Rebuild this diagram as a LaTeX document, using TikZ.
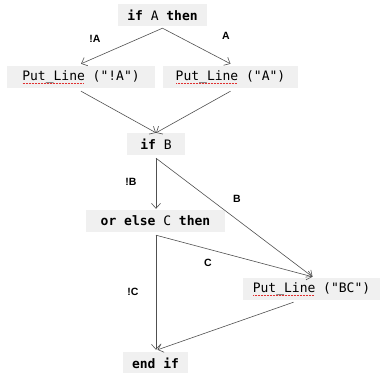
\documentclass[tikz,border=0pt]{standalone}
\usepackage{fontspec}
\setmainfont{Liberation Sans}
\setsansfont{Liberation Sans}
\setmonofont{DejaVu Sans Mono}
\usetikzlibrary{arrows.meta,calc}

% identifier with a dotted red underline beneath it
\newcommand\squig[1]{\setbox0=\hbox{#1}\rlap{\copy0}\raisebox{-2.8pt}[0pt][0pt]{\color{squigred}\leaders\hbox to 1.5pt{\hss\rule{0.8pt}{0.6pt}\hss}\hskip\wd0}}

\definecolor{boxgray}{HTML}{F0F0F0}
\definecolor{linegray}{HTML}{505050}
\definecolor{squigred}{HTML}{E03030}

\tikzset{
  codebox/.style={fill=boxgray, text=black, inner sep=0pt, minimum height=22pt,
                  font=\ttfamily\fontsize{13}{15}\selectfont},
  lbl/.style={font=\sffamily\bfseries\fontsize{10.5}{12}\selectfont, text=black},
  arr/.style={draw=linegray, line width=0.6pt, -{Straight Barb[length=5pt,width=9pt]}}
}

\begin{document}
\begin{tikzpicture}[x=1pt, y=-1pt]
  \useasboundingbox (0,0) rectangle (382,372);

  % statements
  \node[codebox, minimum width=89pt]  (ifA)    at (162.5,15)  {\textbf{if} A \textbf{then}};
  \node[codebox, minimum width=148pt] (putNA)  at (81,77)     {\squig{Put\_Line} ("!A")};
  \node[codebox, minimum width=135pt] (putA)   at (230.5,77)  {\squig{Put\_Line} ("A")};
  \node[codebox, minimum width=58pt]  (ifB)    at (156,144)   {\textbf{if} B};
  \node[codebox, minimum width=139pt] (orelse) at (155.5,221) {\textbf{or else} C \textbf{then}};
  \node[codebox, minimum width=137pt] (putBC)  at (311.5,289) {\squig{Put\_Line} ("BC")};
  \node[codebox, minimum width=65pt]  (endif)  at (155.5,363) {\textbf{end if}};

  % branch points
  \coordinate (ifAout) at ([yshift=-2pt]ifA.south);
  \coordinate (ifBout) at ([yshift=-3pt]ifB.south);
  \coordinate (orout)  at ([xshift=0.5pt,yshift=-3pt]orelse.south);
  \coordinate (bcin)   at ([xshift=1pt,yshift=1pt]putBC.north);

  % control flow
  \draw[arr] (ifAout) -- ([yshift=2pt]putNA.north);
  \draw[arr] (ifAout) -- ([yshift=2pt]putA.north);
  \draw[arr] ([yshift=-3pt]putNA.south) -- (ifB.north);
  \draw[arr] ([yshift=-3pt]putA.south) -- (ifB.north);
  \draw[arr] (ifBout) -- ([yshift=1pt]ifBout |- orelse.north);
  \draw[arr] (ifBout) -- (bcin);
  \draw[arr] (orout) -- ([yshift=2pt]orout |- endif.north);
  \draw[arr] (orout) -- (bcin);
  \draw[arr] ([xshift=-18pt,yshift=-2pt]putBC.south) -- ([xshift=2pt,yshift=2pt]endif.north);

  % branch conditions
  \node[lbl] (lNA) at (95,39)   {!A};
  \node[lbl] (lA)  at (226,36)  {A};
  \node[lbl] (lNB) at (131,182) {!B};
  \node[lbl] (lB)  at (237,199) {B};
  \node[lbl] (lC)  at (208,263) {C};
  \node[lbl] (lNC) at (133,292) {!C};
\end{tikzpicture}
\end{document}
